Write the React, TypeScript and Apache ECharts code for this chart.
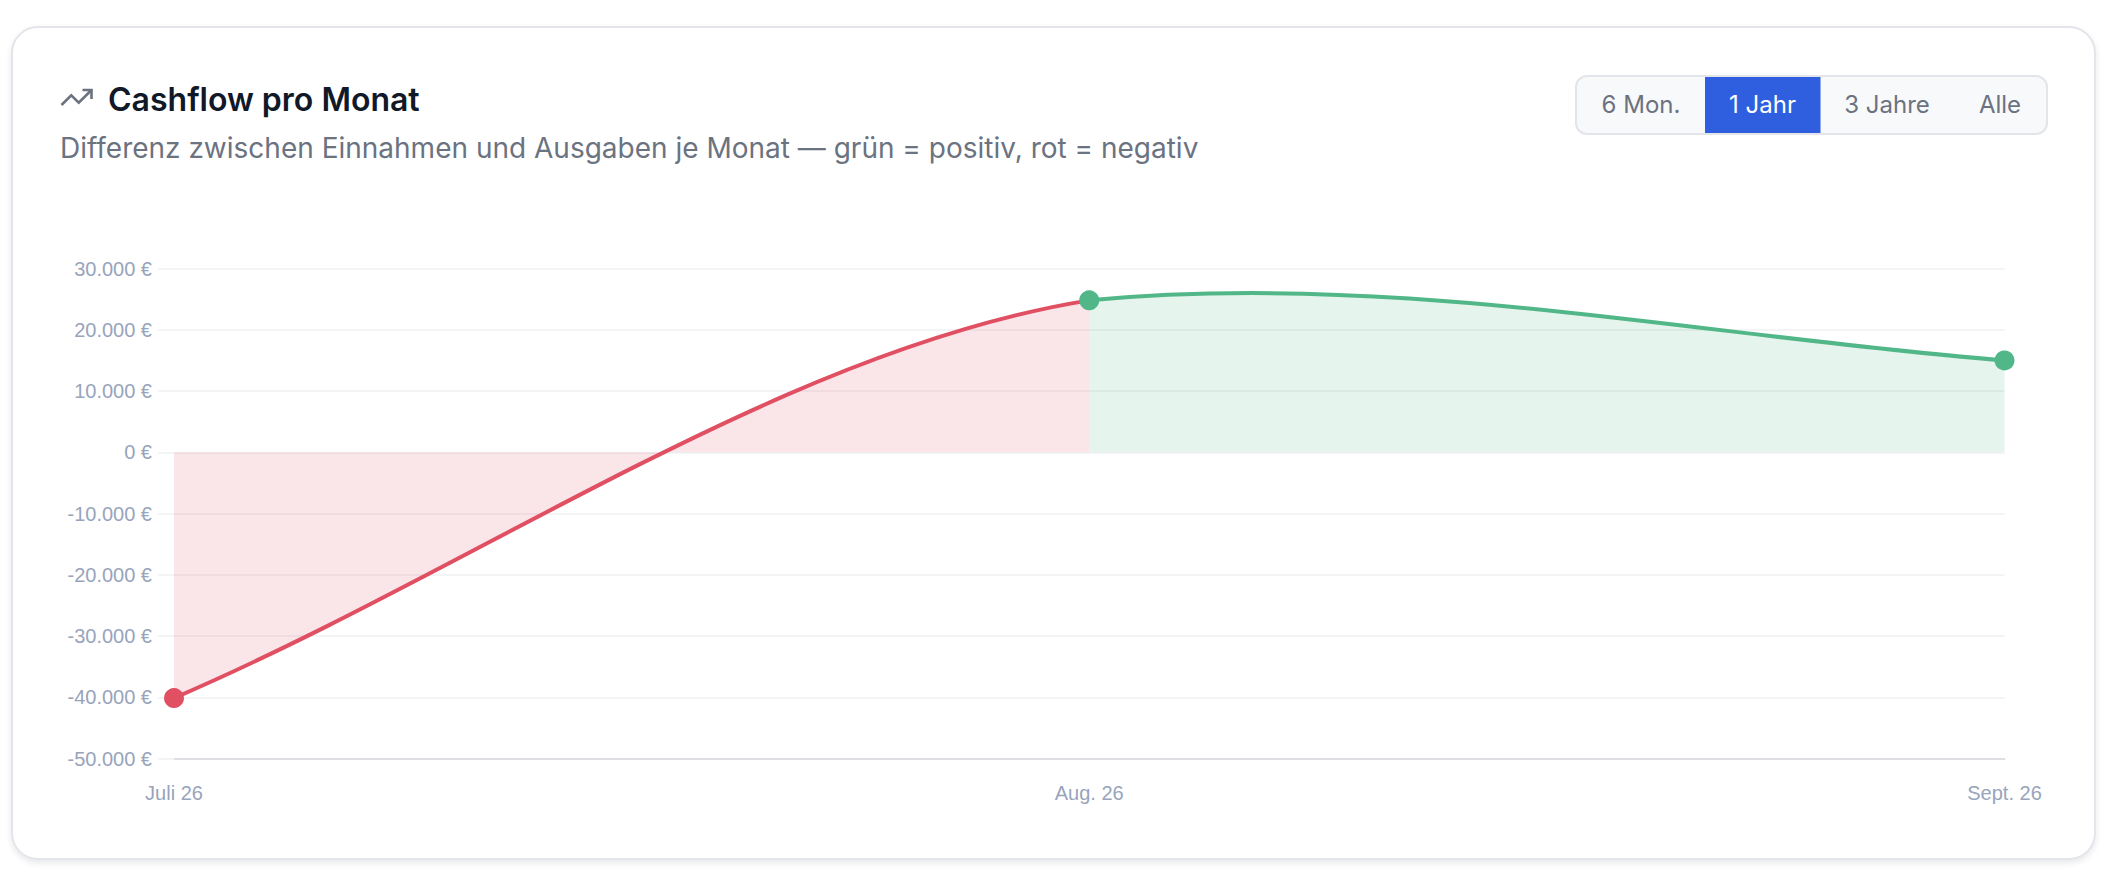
import React, { useEffect, useRef } from "react";
import * as echarts from "echarts";

const months = ["Juli 26", "Aug. 26", "Sept. 26"];
const cashflow = [-40100, 24800, 15000];
// Slope of the curve where each segment leaves and enters a point, in euro per month
const segmentTangents = [
  [64200, 23900],
  [14200, -11950],
];
const rangeLabels = ["6 Mon.", "1 Jahr", "3 Jahre", "Alle"];
const titleText = "Cashflow pro Monat";
const subtitleText = "Differenz zwischen Einnahmen und Ausgaben je Monat — grün = positiv, rot = negativ";

const RED = "#E04F62";
const GREEN = "#52B788";
const FONT = "Inter, 'Noto Sans', sans-serif";
const AXIS_FONT = "'Liberation Sans', Arial, sans-serif";

const buttonCenters = [1641, 1762.5, 1887, 2000];
const ACTIVE = 1;

const fmt = (v: number) => `${v.toLocaleString("de-DE")} €`;
const colorOf = (v: number) => (v < 0 ? RED : GREEN);

function renderSegment(params: any, api: any) {
  const i = params.dataIndex;
  if (i >= cashflow.length - 1) return { type: "group", children: [] };
  const p0 = api.coord([i, cashflow[i]]);
  const p1 = api.coord([i + 1, cashflow[i + 1]]);
  const [out, inn] = segmentTangents[i];
  const c0y = api.coord([i, cashflow[i] + out / 3])[1];
  const c1y = api.coord([i + 1, cashflow[i + 1] - inn / 3])[1];
  const c0x = p0[0] + (p1[0] - p0[0]) / 3;
  const c1x = p1[0] - (p1[0] - p0[0]) / 3;
  const base = api.coord([i, 0])[1];
  const curve = `M${p0[0]} ${p0[1]} C${c0x} ${c0y} ${c1x} ${c1y} ${p1[0]} ${p1[1]}`;
  const color = colorOf(cashflow[i]);
  return {
    type: "group",
    children: [
      {
        type: "path",
        shape: { pathData: `${curve} L${p1[0]} ${base} L${p0[0]} ${base} Z` },
        style: { fill: color, opacity: 0.15, stroke: "none" },
      },
      {
        type: "path",
        shape: { pathData: curve },
        style: { fill: "none", stroke: color, lineWidth: 4 },
      },
    ],
  };
}

export default function App() {
  const ref = useRef<HTMLDivElement>(null);
  useEffect(() => {
    document.body.style.margin = "0";
    document.body.style.background = "#fff";
    const chart = echarts.init(ref.current!, undefined, { renderer: "svg" });
    const s = 1.5;
    const ox = 58.5;
    const oy = 79.5;
    const iconPt = (a: number[][]) => a.map(([x, y]) => [ox + x * s, oy + y * s]);
    chart.setOption({
      animation: false,
      title: [
        {
          text: titleText,
          left: 108,
          top: 83,
          padding: 0,
          textStyle: { fontFamily: FONT, fontSize: 32, fontWeight: 600, color: "#111827" },
        },
        {
          text: subtitleText,
          left: 60,
          top: 134,
          padding: 0,
          textStyle: { fontFamily: FONT, fontSize: 28, fontWeight: 400, color: "#6B7280" },
        },
      ],
      grid: { left: 174, right: 113.5, top: 268.5, bottom: 123.3 },
      xAxis: {
        type: "category",
        data: months,
        boundaryGap: false,
        axisLine: { onZero: false, lineStyle: { color: "#DEDFE2", width: 2 } },
        axisTick: { show: false },
        axisLabel: {
          interval: 0,
          margin: 24,
          color: "#98A4BC",
          fontFamily: AXIS_FONT,
          fontSize: 20,
        },
        splitLine: { show: false },
      },
      yAxis: {
        type: "value",
        min: -50000,
        max: 30000,
        interval: 10000,
        axisLine: { show: false },
        axisTick: { show: true, length: 16, lineStyle: { color: "#F3F4F6", width: 2 } },
        axisLabel: {
          margin: 22,
          color: "#98A4BC",
          fontFamily: AXIS_FONT,
          fontSize: 20,
          formatter: fmt,
        },
        splitLine: { show: true, lineStyle: { color: "#F3F4F6", width: 2 } },
      },
      series: [
        {
          type: "custom",
          coordinateSystem: "cartesian2d",
          data: cashflow.map((v, i) => [i, v]),
          encode: { x: 0, y: 1 },
          renderItem: renderSegment,
          clip: false,
          silent: true,
          z: 4,
        },
        {
          type: "line",
          data: cashflow.map((v) => ({ value: v, itemStyle: { color: colorOf(v) } })),
          symbol: "circle",
          symbolSize: 20,
          showAllSymbol: true,
          clip: false,
          lineStyle: { width: 0, opacity: 0 },
          z: 5,
        },
      ],
      graphic: [
        {
          type: "polyline",
          shape: { points: iconPt([[22, 7], [13.5, 15.5], [8.5, 10.5], [2, 17]]) },
          style: { fill: "none", stroke: "#6B7280", lineWidth: 2.6 },
        },
        {
          type: "polyline",
          shape: { points: iconPt([[16, 7], [22, 7], [22, 13]]) },
          style: { fill: "none", stroke: "#6B7280", lineWidth: 2.6 },
        },
        {
          type: "rect",
          shape: { x: 1576, y: 76, width: 471, height: 58, r: 11 },
          style: { fill: "#F8F9FB", stroke: "#E2E5EA", lineWidth: 2 },
        },
        {
          type: "rect",
          shape: { x: 1705, y: 77, width: 115.5, height: 56 },
          style: { fill: "#2F5FDE" },
        },
        ...rangeLabels.map((label, i) => ({
          type: "text",
          x: buttonCenters[i],
          y: 104,
          style: {
            text: label,
            fontFamily: FONT,
            fontSize: 24,
            fontWeight: 400,
            fill: i === ACTIVE ? "#FFFFFF" : "#6B7280",
            align: "center",
            verticalAlign: "middle",
          },
        })),
      ],
    });
    return () => chart.dispose();
  }, []);
  return (
    <div style={{ position: "absolute", left: 0, top: 0, width: 2118, height: 882, background: "#fff", overflow: "hidden" }}>
      <div
        style={{
          position: "absolute",
          left: 10.5,
          top: 26,
          width: 2085.5,
          height: 834,
          boxSizing: "border-box",
          border: "2px solid #E3E5EA",
          borderRadius: 27,
          background: "#fff",
          boxShadow: "0 3px 6px rgba(20,30,50,0.1)",
        }}
      />
      <div ref={ref} style={{ position: "absolute", left: 0, top: 0, width: 2118, height: 882 }} />
    </div>
  );
}
